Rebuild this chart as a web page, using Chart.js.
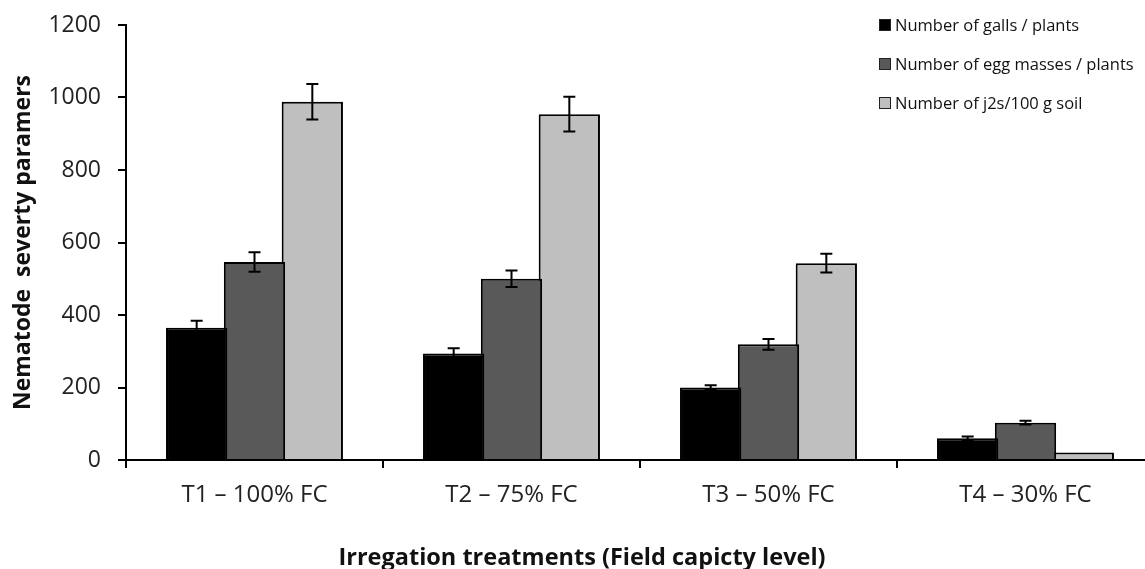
<!DOCTYPE html>
<html>
<head>
<meta charset="utf-8">
<script src="https://cdn.jsdelivr.net/npm/chart.js@4/dist/chart.umd.min.js"></script>
<style>
  body { margin: 0; background: #fff; overflow: hidden; }
  #wrap { position: relative; width: 1154px; height: 569px; }
  #legend { position: absolute; left: 879px; top: 13px; font-family: "Open Sans", Lato, sans-serif; font-size: 16.5px; color: #111; }
  #legend div { height: 39px; display: flex; align-items: flex-start; }
  #legend span.box { display: inline-block; width: 10px; height: 10px; border: 1.5px solid #222; margin: 6px 4px 0 0; }
  #xtitle { position: absolute; left: 582px; top: 545px; transform: translateX(-50%); white-space: nowrap;
            font-family: "Open Sans", Lato, sans-serif; font-weight: bold; font-size: 23.5px; line-height: 1; color: #111; }
</style>
</head>
<body>
<div id="wrap">
  <canvas id="chart" width="1154" height="569"></canvas>
  <div id="legend"></div>
  <div id="xtitle">Irregation treatments (Field capicty level)</div>
</div>
<script>
const categories = ['T1 \u2013 100% FC', 'T2 \u2013 75% FC', 'T3 \u2013 50% FC', 'T4 \u2013 30% FC'];
const seriesNames = ['Number of galls / plants', 'Number of egg masses / plants', 'Number of j2s/100 g soil'];
const galls = [365, 294, 200, 60];
const eggMasses = [546, 500, 319, 103];
const j2s = [988, 954, 543, 21];
const gallsErr = [19, 14, 6, 5];
const eggErr = [27, 23, 15, 5];
const j2sErr = [49, 48, 26, 0];
const colors = ['#000000', '#595959', '#bfbfbf'];

const values = [galls, eggMasses, j2s];
const errors = [gallsErr, eggErr, j2sErr];

// legend
const legend = document.getElementById('legend');
seriesNames.forEach(function(name, i) {
    const row = document.createElement('div');
    row.innerHTML = '<span class="box" style="background:' + colors[i] + '"></span>' + name;
    legend.appendChild(row);
});

const errorBars = {
    id: 'errorBars',
    afterDatasetsDraw(chart) {
        const ctx = chart.ctx;
        const y = chart.scales.y;
        ctx.save();
        ctx.strokeStyle = '#000';
        ctx.lineWidth = 2;
        chart.data.datasets.forEach(function(ds, i) {
            const meta = chart.getDatasetMeta(i);
            meta.data.forEach(function(bar, j) {
                const e = errors[i][j];
                if (!e) return;
                const top = y.getPixelForValue(ds.data[j] + e);
                const bot = y.getPixelForValue(ds.data[j] - e);
                ctx.beginPath();
                ctx.moveTo(bar.x, top); ctx.lineTo(bar.x, bot);
                ctx.moveTo(bar.x - 6, top); ctx.lineTo(bar.x + 6, top);
                ctx.moveTo(bar.x - 6, bot); ctx.lineTo(bar.x + 6, bot);
                ctx.stroke();
            });
        });
        ctx.restore();
    }
};

const ctx = document.getElementById('chart').getContext('2d');
new Chart(ctx, {
    type: 'bar',
    data: {
        labels: categories,
        datasets: seriesNames.map(function(name, i) {
            return {
                label: name,
                data: values[i],
                backgroundColor: colors[i],
                borderColor: '#000',
                borderWidth: 2,
                categoryPercentage: 0.675,
                barPercentage: 1.06
            };
        })
    },
    options: {
        responsive: false,
        animation: false,
        layout: { padding: { top: 25, right: 0, left: 0, bottom: 0 } },
        plugins: { legend: { display: false }, tooltip: { enabled: false } },
        scales: {
            x: {
                grid: { drawOnChartArea: false, color: '#000', lineWidth: 2, tickLength: 8, offset: true },
                border: { color: '#000', width: 2 },
                ticks: { color: '#222', font: { family: '"Open Sans", Lato, sans-serif', size: 24 }, padding: 13 },
                afterFit(scale) { scale.height = 109; }
            },
            y: {
                min: 0, max: 1200,
                ticks: { stepSize: 200, color: '#222', font: { family: '"Open Sans", Lato, sans-serif', size: 23 }, padding: 17,
                         callback: function(v) { return String(v); } },
                grid: { drawOnChartArea: false, color: '#000', lineWidth: 2, tickLength: 8 },
                border: { color: '#000', width: 2 },
                title: { display: true, text: 'Nematode  severty paramers', color: '#111',
                         font: { family: '"Open Sans", Lato, sans-serif', size: 23, weight: 'bold' }, padding: { top: 10, bottom: 0 } },
                afterFit(scale) { scale.width = 126; scale.paddingTop = 0; scale.paddingBottom = 0; }
            }
        }
    },
    plugins: [errorBars]
});
</script>
</body>
</html>
